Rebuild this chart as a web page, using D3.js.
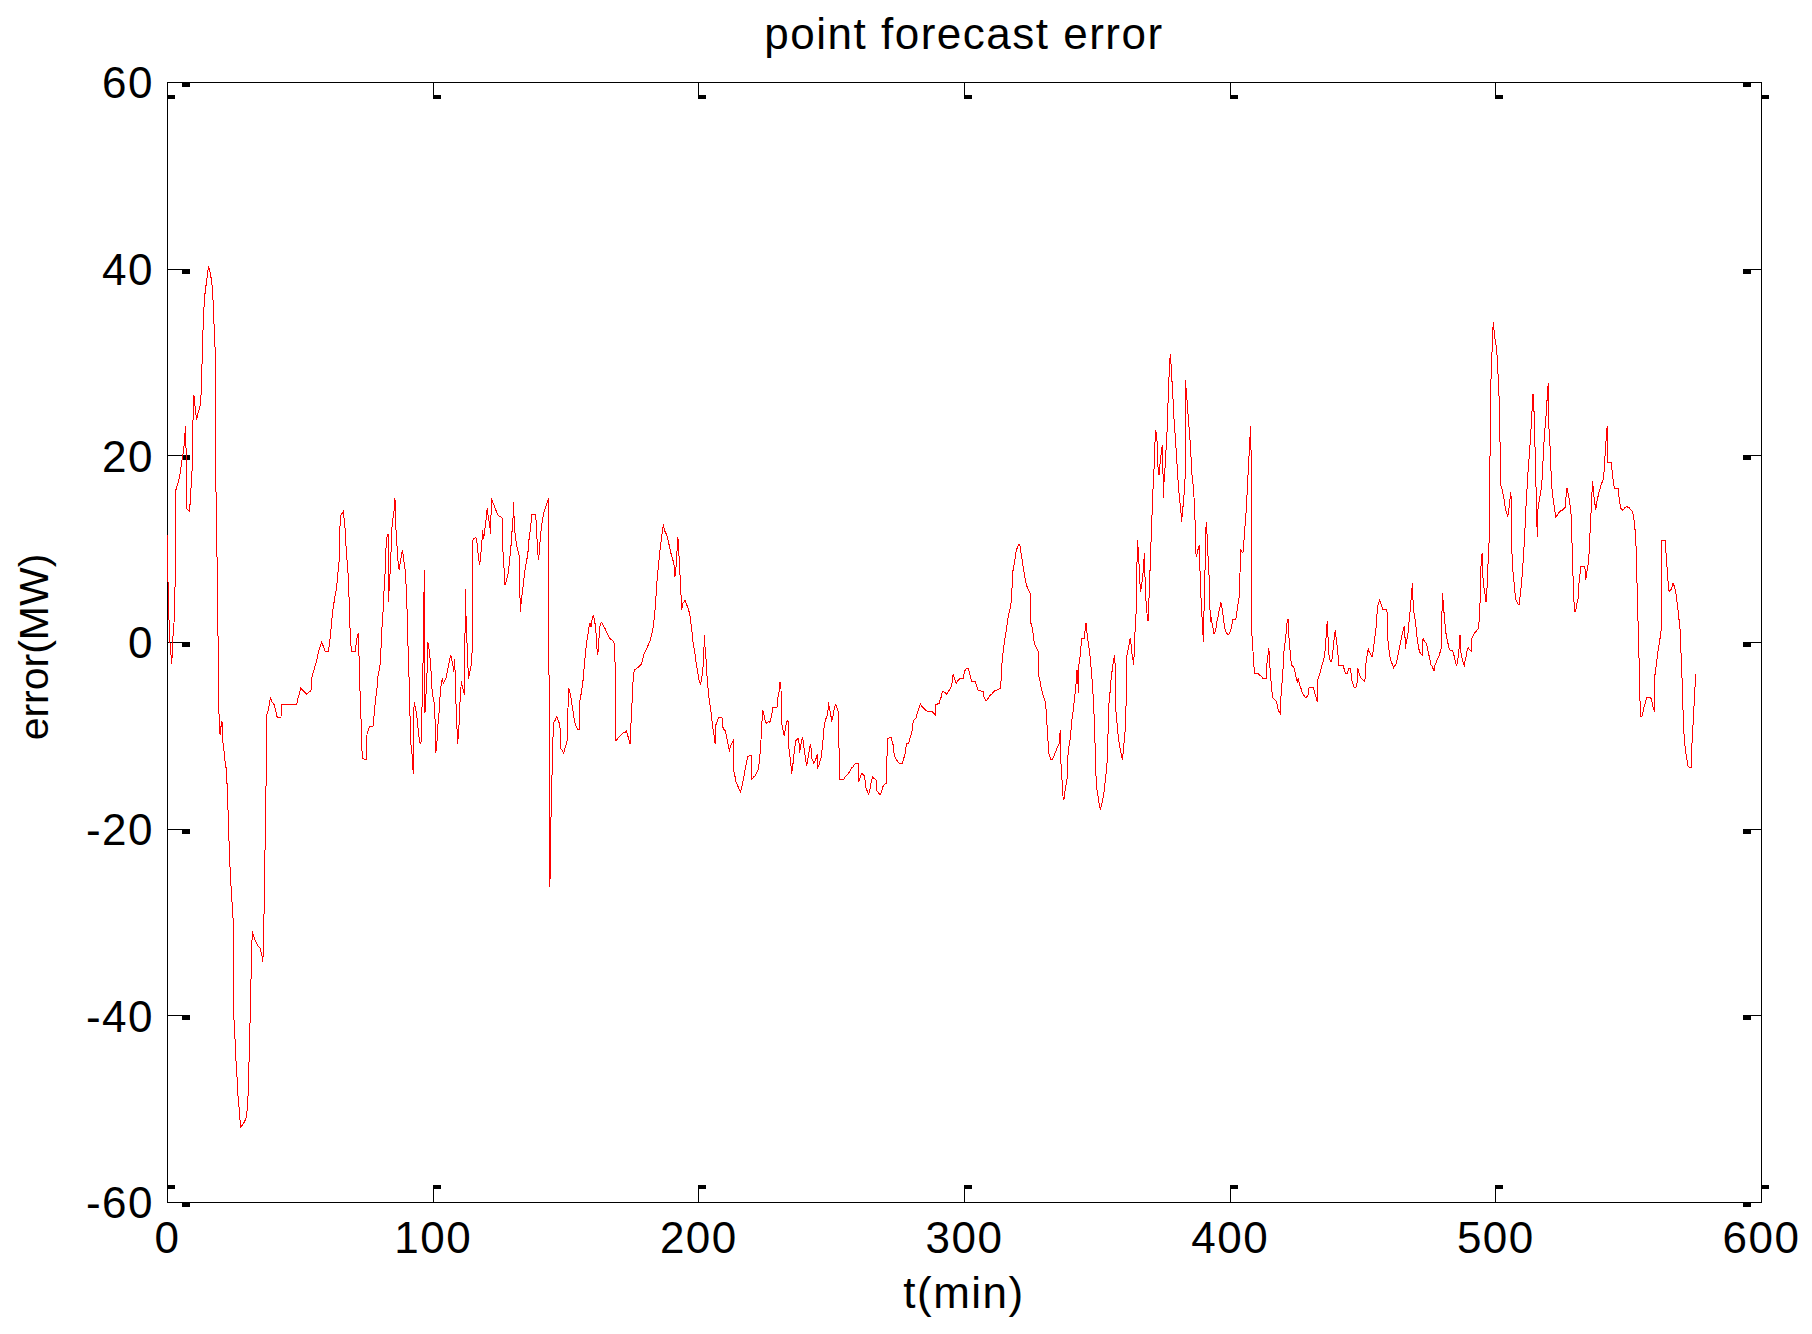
<!DOCTYPE html>
<html>
<head>
<meta charset="utf-8" />
<title>point forecast error</title>
<style>
  body { margin: 0; background: #fff; }
  svg { display: block; }
  .axis text, .label {
    font: 44px "Liberation Sans", Arial, sans-serif;
    letter-spacing: 1.5px;
    fill: #000;
  }
  .label.ylab { font-size: 41px; letter-spacing: 0; }
  .axis line, .axis path {
    stroke: #000;
    stroke-width: 1px;
    fill: none;
    shape-rendering: crispEdges;
  }
  .axis rect { fill: #000; shape-rendering: crispEdges; }
  .series {
    fill: none;
    stroke: #ff0000;
    stroke-width: 1px;
    shape-rendering: crispEdges;
  }
</style>
</head>
<body>
<svg width="1812" height="1334"></svg>

<script src="https://d3js.org/d3.v7.min.js"></script>
<script>
// tick values
const xTicks = [0, 100, 200, 300, 400, 500, 600];
const yTicks = [-60, -40, -20, 0, 20, 40, 60];

// point forecast error, [t (min), error (MW)]
const errorSeries = [
  [0,11.5],[0.6,3.4],[1.1,0],[1.8,-2.4],[2.1,0],[2.6,1.9],[3,3.7],[3.1,16.1],[3.7,16.6],[4.3,17.2],
  [4.9,18],[5.5,19.2],[6.2,20.4],[6.5,21.3],[6.9,22.8],[7.1,23.1],[7.3,14.3],[8.5,14],[8.9,15.8],[9.6,19.2],
  [9.9,26.5],[10.3,26.2],[10.7,24.7],[11.2,23.8],[11.5,24.4],[12.2,25],[12.7,25.6],[13.1,28.9],[13.4,32.3],[13.8,35.3],
  [14.2,37.1],[14.6,38],[15.2,39.3],[15.6,40.3],[16.2,39.6],[16.8,38.7],[17.2,37.4],[17.7,34.1],[18.1,31.4],[18.3,18.9],
  [18.8,9.8],[19.2,0.6],[19.6,-8.2],[20,-10],[20.3,-9.1],[20.7,-8.5],[21.1,-10.9],[21.5,-11.8],[21.8,-12.7],[22.2,-13.4],
  [22.6,-15.2],[23,-18.2],[23.3,-21],[23.7,-24],[24.1,-26.1],[24.5,-28],[24.9,-29.8],[25.2,-40.4],[25.6,-42.5],[26,-45],
  [26.4,-46.8],[26.7,-48.6],[27.1,-49.8],[27.7,-52],[28.5,-51.7],[29.2,-51.4],[30,-50.8],[30.5,-48.6],[31,-43.8],[31.4,-38.9],
  [31.8,-34],[32.1,-31],[32.7,-31.6],[33.4,-32.1],[34.1,-32.5],[35,-32.8],[35.6,-33.4],[36.1,-34.3],[36.5,-29.5],[36.9,-22.2],
  [37.3,-14.9],[37.5,-7.9],[38.1,-7.3],[38.9,-6],[39.5,-6.4],[40.3,-6.7],[40.9,-7.3],[41.5,-8.1],[42.9,-8.1],[43.1,-6.7],
  [48.8,-6.7],[49.4,-5.9],[49.9,-5.5],[50.3,-4.9],[50.9,-5.1],[51.6,-5.3],[52.6,-5.6],[53.4,-5.4],[54.2,-5.2],[54.5,-3.9],
  [55.1,-3.2],[55.7,-2.6],[56.3,-2.1],[57,-1],[57.6,-0.5],[58.2,0],[58.9,-0.5],[59.5,-1],[60.7,-1],[61.1,-0.3],
  [61.6,0.9],[62,2.2],[62.4,3.4],[62.9,4.3],[63.2,4.9],[63.7,5.6],[64.1,6.6],[64.5,7.9],[64.9,9],[65.2,13.5],
  [65.7,13.7],[66.4,14],[67,12.2],[67.4,10.2],[67.9,8.3],[68.3,6.8],[68.8,2.2],[69.1,0],[69.5,-1],[70.8,-1],
  [71.3,-0.1],[71.6,0.6],[72,1],[72.3,-1.7],[72.6,-4.8],[73,-8],[73.5,-12.5],[75,-12.6],[75.3,-9.8],[75.8,-9.4],
  [76.3,-9.1],[77.7,-9],[78,-7.5],[78.5,-6.2],[79,-5.1],[79.4,-3.7],[79.9,-3],[80.3,-2.3],[80.8,1],[81.3,3.2],
  [81.7,5.6],[82.1,7.4],[82.4,9.9],[82.8,11.2],[83.2,11.6],[83.3,4.3],[83.7,6.1],[84.1,8.1],[84.4,10.2],[84.7,12.4],
  [85.1,13.3],[85.5,14.1],[85.8,15.4],[86.2,12],[86.6,10.2],[87.1,8.1],[87.5,7.7],[87.8,8.6],[88.3,9.3],[88.6,9.9],
  [89,9.1],[89.3,8.3],[89.8,7.4],[90.3,4],[90.7,-0.3],[91.2,-4.6],[91.7,-10.7],[92.2,-11.9],[92.7,-14.1],[93,-6.4],
  [93.4,-6.9],[93.9,-7.6],[94.3,-8.7],[94.7,-9.8],[95.1,-10.7],[95.6,-10.9],[96,-6.9],[96.4,-1.9],[96.6,3.2],[96.9,7.7],
  [97.1,-7.6],[97.5,-5.5],[97.9,-3.2],[98.2,0],[98.6,-0.7],[99,-1.7],[99.4,-3.2],[99.8,-5.3],[100.3,-6.2],[100.8,-6.8],
  [101.1,-11.9],[101.5,-11.4],[101.9,-9.1],[102.4,-7.6],[102.8,-5.7],[103.1,-4.8],[103.6,-3.9],[104,-4.4],[104.5,-4.2],[105,-3.9],
  [105.5,-3.2],[105.9,-2.6],[106.4,-1.9],[106.8,-1.4],[107.2,-1.9],[107.6,-2.5],[108,-3.2],[108.3,-1.8],[108.7,-6],[109,-8.2],
  [109.4,-10.9],[109.9,-9.1],[110.3,-6.4],[110.8,-4.2],[111.2,-4.8],[111.5,-5.1],[112,-5.7],[112.3,5.7],[112.7,1.1],[113.2,-1.6],
  [113.4,-3.9],[113.9,-3.4],[114.4,-2.6],[114.8,-1.9],[115,10.9],[115.6,11.1],[116.3,11.2],[116.8,10.4],[117.2,9.1],[117.7,8.3],
  [118.1,9.3],[118.5,10.6],[118.8,12],[119.2,11],[119.6,12],[120.1,13.1],[120.5,14.3],[121,13.3],[121.5,12.4],[121.8,11.6],
  [122.1,15.4],[122.6,15],[123.1,14.7],[123.5,14.3],[124,14],[124.5,13.6],[125.1,13.5],[125.6,13.4],[126.1,13.3],[126.4,10],
  [126.9,7.7],[127.2,6.1],[127.7,6.5],[128.1,7],[128.5,7.5],[128.9,8.6],[129.4,9.9],[129.7,11.3],[130.2,12.9],[130.4,15],
  [130.7,12.9],[131.1,11.3],[131.6,10.4],[132,9.9],[132.5,9.3],[133,3.2],[133.4,4.5],[133.9,5.6],[134.3,6.6],[134.6,7.4],
  [135,8.1],[135.4,8.8],[135.8,9.3],[136.1,10.6],[136.5,11.5],[136.9,12.4],[137.3,13.7],[138.8,13.7],[139,12.4],[139.3,10.9],
  [139.6,9.5],[139.9,8.8],[140.2,9.9],[140.5,11.1],[140.9,12.2],[141.3,13.1],[141.7,13.6],[142,14],[142.4,14.3],[142.8,14.7],
  [143.2,15],[143.7,15.4],[143.9,-26.2],[144.2,-25.3],[144.4,-20.5],[144.8,-15.7],[145.2,-10.9],[145.5,-8.7],[146.1,-8.4],[146.6,-8],
  [147,-8.2],[147.4,-8.5],[147.9,-8.9],[148.2,-11.4],[148.8,-11.6],[149.3,-11.9],[149.8,-11.4],[150.3,-10.9],[150.7,-10.5],[151.1,-4.9],
  [151.6,-5.3],[152.1,-6],[152.5,-6.9],[153,-7.6],[153.3,-8.4],[153.8,-8.9],[154.2,-9.1],[154.7,-9.4],[155.1,-9.4],[155.3,-6.4],
  [155.8,-5.7],[156.2,-5],[156.6,-4.1],[157,-2.8],[157.3,-1.8],[157.7,-0.7],[158.1,0.2],[158.5,0.9],[158.8,1.5],[159.2,2],
  [159.6,1.6],[160,2.4],[160.5,2.9],[160.9,2.4],[161.2,1.8],[161.6,0.6],[162,-1.4],[162.4,-0.9],[162.7,0.9],[163.1,2],
  [163.6,2.1],[164.1,1.8],[164.6,1.6],[165.1,1.3],[165.6,1],[166.1,0.7],[166.6,0.4],[167.6,0.2],[168.1,0],[168.6,-0.3],
  [168.8,-10.5],[169.3,-10.5],[169.9,-10.2],[170.5,-10.1],[171.1,-9.9],[171.8,-9.7],[172.4,-9.7],[172.9,-9.5],[173.4,-10],[173.9,-10.5],
  [174.3,-10.9],[174.8,-7.8],[175.2,-5.7],[175.5,-3.7],[175.9,-3],[176.4,-2.9],[176.9,-2.8],[177.8,-2.6],[178.2,-2.5],[178.7,-2.3],
  [179.1,-1.8],[179.4,-1.4],[179.8,-1.2],[180.2,-0.9],[180.9,-0.5],[181.3,-0.2],[181.7,0],[182.1,0.4],[182.4,0.7],[182.8,1.3],
  [183.2,2],[183.6,3.1],[183.9,4],[184.3,6.1],[184.7,7.4],[185.1,8.4],[185.4,9.5],[185.8,10.4],[186.2,11.3],[186.6,12],
  [186.8,12.6],[187.2,12],[187.7,11.7],[188.2,11.4],[188.6,10.9],[189,10.4],[189.3,10],[189.7,9.5],[190.1,9.1],[190.6,8.6],
  [191,8.1],[191.2,7],[191.5,7.7],[191.8,8.8],[192.1,10.4],[192.3,11.2],[192.6,9.9],[193,7.7],[193.4,5.6],[193.7,3.4],
  [194.1,4.1],[194.6,4.3],[195,4.5],[195.5,4],[196,3.8],[196.4,3.4],[196.9,2.7],[197.2,2],[197.6,1.1],[198,0],
  [198.4,-0.7],[198.8,-1.4],[199.1,-2.1],[199.5,-2.8],[199.9,-3.5],[200.3,-4.1],[200.8,-4.6],[201.1,-4.1],[201.5,-3.4],[201.9,-2.3],
  [202.3,0.7],[202.5,-0.5],[202.9,-1.9],[203.4,-4.3],[203.8,-5.3],[204.1,-6.2],[204.6,-7.1],[205,-8],[205.4,-9.1],[205.9,-10],
  [206.3,-10.9],[206.4,-9.1],[206.8,-8.7],[207.3,-8.4],[207.6,-8.1],[208.9,-8.1],[209.2,-9.1],[209.7,-9.4],[210.2,-9.5],[210.5,-10],
  [210.9,-10.5],[211.3,-11.2],[211.7,-11.6],[212,-11.3],[212.5,-10.9],[212.9,-10.7],[213.3,-10.5],[213.4,-13.9],[213.8,-14.4],[214.2,-15],
  [214.7,-15.3],[215.2,-15.7],[215.5,-15.9],[215.9,-16.1],[216.3,-15.6],[216.7,-15.1],[217.1,-14.5],[217.4,-13.9],[217.8,-13.4],[218.2,-12.8],
  [218.6,-12.3],[219.2,-12.2],[220,-12.2],[220.1,-14.7],[220.6,-14.6],[221,-14.4],[221.5,-14.3],[222,-14],[222.3,-13.8],[222.7,-13.5],
  [223.1,-12.4],[223.5,-10.9],[223.8,-9.4],[224.2,-7.3],[224.6,-7.6],[225,-8.2],[225.3,-8.6],[225.8,-8.7],[226.5,-8.5],[226.9,-8.6],
  [227.4,-8.1],[227.7,-7.7],[228.1,-7],[229.6,-7],[230,-5.9],[230.4,-5.3],[230.7,-4.3],[231.1,-4.3],[231.2,-8.2],[231.6,-9.1],
  [232,-9.6],[232.4,-10.1],[232.7,-9.4],[233.1,-8.7],[233.5,-8.4],[233.9,-8.6],[234,-11.2],[234.4,-12.1],[234.8,-13],[235.1,-14.1],
  [235.5,-13.4],[235.9,-12.3],[236.3,-11.4],[236.6,-10.6],[237.3,-10.4],[237.8,-10.3],[238.1,-11.9],[238.5,-11.2],[238.9,-10.5],[239.3,-10.2],
  [239.6,-11],[240,-11.8],[240.4,-12.6],[240.8,-13.3],[241.2,-12.6],[241.5,-12.1],[241.9,-11.3],[242.3,-10.9],[242.7,-12.5],[243.2,-12.8],
  [243.5,-13],[244,-12.7],[244.4,-12.4],[244.8,-12],[245,-13.4],[245.4,-13.2],[245.8,-12.8],[246.3,-12.3],[246.7,-11.2],[247.1,-10],
  [247.4,-8.9],[247.8,-8.4],[248.3,-8],[248.7,-7.8],[249,-6.4],[249.3,-7.1],[249.7,-7.6],[250.2,-8.4],[250.6,-8.1],[250.9,-7.5],
  [251.3,-7],[251.7,-6.7],[252.1,-7],[252.4,-7.2],[252.8,-7.7],[253.1,-14.7],[254.7,-14.7],[255.2,-14.5],[255.8,-14.3],[256.5,-14.1],
  [257.1,-13.8],[257.7,-13.5],[258.2,-13.4],[258.7,-13.1],[259.5,-13],[260.2,-13],[260.3,-15],[260.8,-14.6],[261.2,-14.3],[261.6,-14.1],
  [262.1,-14.2],[262.6,-14.4],[263,-15.5],[263.4,-15.9],[263.7,-16],[264.1,-16.4],[264.5,-15.9],[264.9,-15.3],[265.2,-14.8],[265.7,-14.4],
  [266.1,-14.6],[266.6,-14.7],[267,-14.8],[267.1,-15.9],[267.5,-16],[267.9,-16.2],[268.4,-16.4],[268.7,-16.2],[269.1,-15.9],[269.5,-15.5],
  [270,-15.3],[270.4,-15.2],[270.9,-15.1],[271.1,-10.4],[271.6,-10.3],[272.1,-10.2],[272.5,-10.2],[272.9,-10.6],[273.3,-11],[273.6,-11.8],
  [274,-12.3],[274.4,-12.5],[274.8,-12.7],[275.2,-12.9],[275.9,-13],[276.7,-13],[277.2,-12.6],[277.5,-12.3],[277.9,-11.9],[278.3,-10.9],
  [279,-10.9],[279.4,-10.6],[279.8,-10.2],[280.2,-9.8],[280.5,-9.4],[280.9,-8.4],[281.3,-8.3],[281.7,-8.2],[282.1,-8.1],[282.4,-7.6],
  [282.8,-7.3],[283.2,-7],[283.6,-6.6],[284.1,-6.9],[284.6,-7],[285.1,-7.2],[285.6,-7.3],[286.2,-7.4],[287.6,-7.4],[288.1,-7.5],
  [288.6,-7.6],[289.1,-7.8],[289.2,-6.7],[290.7,-6.6],[291.1,-6],[291.5,-5.9],[291.8,-5.3],[292.3,-5.3],[292.8,-5.4],[293.5,-5.6],
  [294.1,-5.3],[294.7,-5.1],[295.1,-4.8],[295.5,-4.4],[295.9,-3.4],[296.2,-3.7],[296.6,-4.1],[297.1,-4.4],[297.5,-4.2],[297.9,-4.1],
  [298.5,-3.9],[299.8,-3.9],[300.1,-3.2],[300.5,-3],[301,-2.8],[301.5,-2.8],[302,-3.2],[302.4,-3.7],[302.8,-4.2],[304.3,-4.2],
  [304.6,-4.6],[305,-4.9],[305.4,-5.2],[307.3,-5.3],[307.5,-5.85],[307.9,-6.1],[308.4,-6.3],[308.9,-6.1],[309.4,-5.9],[309.9,-5.7],
  [310.4,-5.6],[311,-5.4],[311.7,-5.2],[312.9,-5.1],[313.4,-5],[313.8,-4.95],[314.2,-2.6],[314.5,-1.6],[314.9,-0.7],[315.3,0.2],
  [315.7,0.9],[316.1,1.6],[316.4,2.4],[316.8,2.9],[317.2,3.4],[317.6,4],[317.9,4.5],[318.3,7.4],[318.7,8.1],[319.1,8.6],
  [319.4,9.5],[319.8,9.9],[320.2,10.2],[320.6,10.5],[321,10.5],[321.2,9.9],[321.6,9.3],[322,8.6],[322.3,7.9],[322.7,7.4],
  [323.1,6.6],[323.5,6.1],[323.8,5.9],[324.2,5.6],[324.7,5.3],[325.1,5.1],[325.2,2],[325.6,1.6],[326,0.9],[326.4,0],
  [326.7,-0.3],[327.1,-0.5],[327.5,-0.8],[327.9,-1],[328.2,-3.7],[328.6,-4.2],[329,-4.8],[329.4,-5.3],[329.7,-5.6],[330.1,-6],
  [330.5,-6.3],[330.9,-7.2],[331.2,-8.7],[331.6,-10.5],[332,-12],[332.4,-12.3],[332.7,-12.6],[333.2,-12.6],[333.8,-12.3],[334.2,-11.9],
  [334.8,-11.6],[335.2,-11.2],[335.8,-10.9],[336,-10.1],[336.3,-9.4],[336.5,-13],[336.9,-14.8],[337.3,-16.7],[337.6,-16.9],[338,-16],
  [338.4,-15.3],[338.8,-14.6],[339.1,-12.3],[339.5,-11.2],[339.9,-10.5],[340.3,-9.4],[340.6,-8.4],[341,-7.6],[341.4,-6.6],[341.8,-5.5],
  [342.2,-4.35],[342.5,-3],[342.8,-3],[343,-5.5],[343.3,-2.3],[343.7,-1.6],[344,-0.5],[344.4,0.4],[345.4,0.4],[345.7,2],
  [346,2],[346.4,0.6],[346.8,-0.1],[347.2,-1],[347.6,-1.9],[347.9,-3],[348.3,-4.4],[348.7,-6.2],[349.1,-8.7],[349.4,-11.6],
  [349.8,-15.3],[350.2,-16.2],[350.6,-16.7],[350.9,-17.5],[351.3,-17.9],[351.7,-17.6],[352.1,-17.1],[352.4,-16.6],[352.8,-15.9],[353.2,-14.8],
  [353.6,-13.7],[353.9,-12.8],[354.3,-8.9],[354.6,-6.4],[355,-5.3],[355.3,-4.2],[355.7,-3.2],[356.1,-2.3],[356.5,-1.7],[356.8,-1.4],
  [357.1,-7.1],[357.5,-8.35],[357.8,-9.4],[358.2,-10.5],[358.6,-11.2],[359,-11.7],[359.3,-12.3],[359.7,-12.5],[360.1,-11.2],[360.5,-9.9],
  [360.9,-8.9],[361.2,-1.6],[361.6,-1],[362,-0.5],[362.4,0.3],[362.7,0.4],[363.1,-1],[363.5,-1.7],[363.9,-2.5],[364.2,0.2],
  [364.6,2.2],[365,4.3],[365.2,10.9],[365.6,9.9],[366,7.7],[366.4,5.4],[366.8,5.9],[367.1,6.6],[367.5,7.7],[367.9,9.5],
  [368.3,5.2],[368.6,4],[369,2.7],[369.3,2.2],[369.6,4.3],[370,7.5],[370.4,10.8],[370.8,13.8],[371.1,16.1],[371.4,17.9],
  [371.8,20],[372,22.7],[372.4,22.4],[372.8,21.1],[373,18.8],[373.4,17.9],[373.8,19.1],[374.2,20.2],[374.5,20.9],[374.8,21.1],
  [375,15.4],[375.3,17.2],[375.7,18.8],[376,20.4],[376.4,22.4],[376.7,24.9],[377,27.4],[377.4,29.9],[377.7,30.9],[377.9,29.9],
  [378.3,27.9],[378.7,25.9],[379,24.1],[379.4,22.5],[379.8,20.8],[380.2,19],[380.6,17.2],[380.9,16.1],[381.3,14.9],[381.7,13.8],
  [381.9,12.9],[382.2,13.8],[382.6,15],[382.9,16.1],[383.2,17.5],[383.3,28.1],[383.7,26.8],[384.1,25.4],[384.4,24.1],[384.8,22.7],
  [385.2,21.1],[385.6,19.1],[385.9,17.5],[386.3,16.8],[386.7,14.9],[387.1,12],[387.3,9.5],[387.6,9.1],[387.8,9.7],[388.2,10],
  [388.6,10.4],[388.8,7.9],[389.1,5.4],[389.5,2.9],[389.7,2.4],[390.1,0],[390.3,2.9],[390.6,5.6],[390.8,9.1],[391.1,12.4],
  [391.3,12.9],[391.6,10.6],[392,8.4],[392.2,7.4],[392.5,4.7],[392.7,2.2],[393,2.7],[393.3,2.1],[393.7,1.5],[394.1,0.9],
  [394.5,1.1],[394.9,1.5],[395.2,2.2],[395.6,2.7],[396,3.3],[396.4,3.8],[396.6,4.3],[397,3.8],[397.4,3.1],[397.7,2.4],
  [398.1,1.5],[398.5,1.1],[398.9,0.9],[399.5,0.8],[400,0.9],[400.4,1.3],[400.8,1.8],[401.1,2.4],[402.3,2.4],[402.6,2.9],
  [403,3.8],[403.4,4.5],[403.8,5.2],[404,9.9],[404.4,9.8],[404.8,9.6],[405.1,9.7],[405.5,11.3],[405.9,12.9],[406.3,14.3],
  [406.6,16.1],[407,18.4],[407.4,20.6],[407.8,22.7],[408,23.1],[408.3,1.1],[408.7,-0.5],[409,-2.2],[409.4,-3.4],[410.8,-3.4],
  [411.4,-3.6],[412,-3.7],[412.5,-3.9],[413.7,-3.9],[414,-2.3],[414.3,-1.8],[414.7,-0.7],[414.9,-1.2],[415.3,-3.4],[415.7,-4.6],
  [416.1,-5.9],[416.4,-6],[417.1,-6.2],[417.6,-6.4],[418,-6.8],[418.3,-7.3],[418.7,-7.5],[419.1,-7.7],[419.3,-5.9],[419.7,-4.4],
  [420.1,-2.8],[420.3,-1.4],[420.7,-0.3],[421.1,0.4],[421.3,1.3],[421.7,2.4],[422,2.4],[422.2,0.9],[422.6,-0.5],[423,-1.8],
  [423.3,-2.5],[423.8,-2.6],[424.3,-2.8],[424.7,-3.4],[425.1,-3.9],[425.5,-4.4],[425.8,-3.9],[426.2,-4.4],[426.6,-4.8],[427,-5.1],
  [427.3,-5.4],[427.9,-5.7],[428.4,-5.9],[429,-5.9],[429.5,-5.7],[429.9,-4.9],[431.5,-4.9],[431.9,-5.3],[432.2,-5.7],[432.6,-6],
  [433,-6.4],[433.1,-4.1],[433.5,-3.7],[433.9,-3.4],[434.3,-3],[434.6,-2.6],[435,-2.3],[435.4,-1.9],[435.8,-1.4],[436,-0.5],
  [436.3,0.6],[436.5,1.6],[436.8,2.2],[437,0.6],[437.3,-1.2],[437.6,-1.8],[438,-2.1],[438.4,-2.1],[438.8,-1.2],[439.1,-0.3],
  [439.5,0.8],[439.8,1.3],[440,0.57],[440.4,-0.3],[440.8,-1.4],[441.1,-2.5],[442.7,-2.5],[443,-2.8],[443.4,-3.2],[443.8,-3.4],
  [444.2,-3.4],[444.5,-3.2],[444.9,-2.8],[445.3,-2.8],[445.7,-3.4],[446,-4.1],[446.4,-4.5],[446.8,-4.85],[447.5,-4.85],[447.9,-4.6],
  [448.2,-2.8],[448.5,-3.2],[448.9,-3.5],[449.3,-3.8],[449.7,-3.9],[450.3,-4.1],[450.9,-4.25],[451.2,-2.5],[451.6,-1.75],[451.9,-1],
  [452.2,-0.7],[452.4,-1],[452.8,-1.2],[453.2,-1.4],[453.6,-1.6],[453.9,-1.2],[454.3,-0.3],[454.7,0.57],[455.1,1.57],[455.3,2.5],
  [455.7,3.8],[456.1,4.2],[456.5,4.5],[456.8,4.2],[457.2,3.86],[457.6,3.5],[459.2,3.5],[459.5,0.4],[459.8,-0.5],[460.2,-1.4],
  [460.6,-1.9],[461,-2.2],[461.3,-2.5],[461.7,-2.75],[462.1,-2.6],[462.5,-2.4],[462.9,-2.1],[463.2,-1.6],[463.6,-1.1],[464,-0.5],
  [464.4,0.04],[464.7,0.57],[465.1,1],[465.5,1.57],[465.9,1.7],[466.1,-0.7],[466.5,0],[466.9,0.57],[467.2,1.1],[467.6,2.4],
  [468,3.6],[468.4,5],[468.8,6.3],[469.1,3.8],[469.5,2.9],[469.9,2.2],[470.3,1.3],[470.6,0.3],[471,-0.4],[471.4,-1],
  [471.8,-1.2],[472.5,-1.4],[472.8,0.4],[473.1,0.2],[473.5,0],[473.9,-0.1],[474.3,-0.4],[474.6,-0.86],[475,-1.4],[475.4,-1.9],
  [475.8,-2.5],[476.2,-2.6],[476.5,-2.8],[476.9,-3.1],[477.3,-2.4],[477.7,-2.2],[478,-2],[478.4,-1.75],[478.8,-1.5],[479.2,-1.1],
  [479.5,-0.86],[479.8,-0.5],[480,5.2],[480.4,4.3],[480.8,2.7],[481.2,1.5],[481.5,0.75],[481.9,0.2],[482.3,-0.3],[482.7,-0.8],
  [483,-0.9],[483.8,-0.9],[484.2,-1.2],[484.6,-1.6],[484.9,-2.1],[485.3,-2.5],[485.7,-2.3],[486.1,-1.4],[486.4,-0.5],[486.7,0.75],
  [486.9,-0.86],[487.3,-1.5],[487.7,-2],[488.1,-2.4],[488.3,-2.5],[488.7,-1.9],[489.1,-1.4],[489.4,-0.86],[489.8,-0.57],[490.2,-0.8],
  [490.9,-0.96],[491.1,0.4],[491.5,0.57],[491.8,0.75],[492.2,1],[492.6,1.1],[493,1.2],[493.3,1.36],[493.7,1.47],[494.2,3.8],
  [494.6,8.1],[495,9.5],[495.3,7],[495.7,5.9],[496.1,5.2],[496.5,4.3],[496.9,5.9],[497.2,8.1],[497.6,10.2],[497.9,16.6],
  [498.2,26.8],[498.6,29.9],[499,32.9],[499.2,34.3],[499.6,33.1],[500,32.2],[500.5,31.5],[500.9,29.3],[501.3,27],[501.6,24.5],
  [502,16.8],[502.4,16.5],[502.8,16],[503.1,15.6],[503.5,14.9],[503.9,14.1],[504.3,13.8],[504.6,13.4],[505,14],[505.4,15],
  [505.8,16.1],[506,15.2],[506.3,9],[506.6,7.7],[507,6.5],[507.4,5.3],[507.8,4.5],[508.1,4.3],[508.5,4.1],[508.9,3.96],
  [509.3,4.85],[509.7,5.9],[510,6.8],[510.4,8.4],[510.8,10.2],[511.2,12.4],[511.5,14.3],[511.9,16.3],[512.3,18.2],[512.7,19.7],
  [513,20.9],[513.4,22.7],[513.8,24.7],[514.2,26.6],[514.4,26.3],[514.8,22.3],[515.2,18.1],[515.5,14.1],[515.8,11.3],[516,14.1],
  [516.4,14.9],[516.8,15.6],[517.2,16.3],[517.6,17.4],[517.9,19.1],[518.3,21.3],[518.7,22.9],[519.1,24.3],[519.4,25.6],[519.7,27],
  [519.9,27.7],[520.2,22.9],[520.6,20.9],[520.9,18.6],[521.3,16.5],[521.7,15.4],[522.1,14.7],[522.5,13.8],[522.8,13.4],[523.3,13.6],
  [523.8,13.8],[524.3,14],[525,14.1],[525.6,14.2],[526.1,14.4],[526.5,14.5],[526.7,16.5],[527.1,16.4],[527.5,15.7],[527.9,15.2],
  [528.2,14.5],[528.6,13.4],[528.9,10.2],[529.2,7.4],[529.6,4.3],[530,3.2],[530.4,3.6],[530.7,4.1],[531.1,4.5],[531.5,6.3],
  [531.9,7.4],[532.2,8.1],[533.7,8.1],[534,6.6],[534.4,7.4],[534.7,8.1],[535.1,8.4],[535.5,10.9],[535.9,13.1],[536.3,15.6],
  [536.6,17.2],[537,15.9],[537.4,15],[537.8,14.1],[538.1,14.9],[538.5,15.4],[538.9,15.9],[539.3,16.3],[539.6,16.6],[540,17],
  [540.4,17.2],[540.8,17.7],[541.1,19.1],[541.5,20.9],[541.9,22.5],[542.1,23.1],[542.4,19.2],[543.7,19.2],[544,18.1],[544.4,17.2],
  [544.8,16.5],[546.2,16.5],[546.5,15.6],[546.9,14.8],[547.3,14.3],[547.7,14.1],[548.2,14.2],[548.8,14.4],[549.4,14.5],[550.3,14.4],
  [550.9,14.2],[551.4,14.1],[551.8,13.8],[552.2,13.1],[552.6,12],[552.9,10.9],[553.3,6.6],[553.7,2.35],[554.1,-1.9],[554.4,-5.9],
  [554.7,-8],[555.1,-8],[555.5,-7.6],[555.8,-7.2],[556.2,-6.75],[556.6,-6.4],[557,-5.9],[558.1,-5.9],[558.5,-6],[558.8,-6.2],
  [559.2,-6.75],[559.6,-7.2],[559.8,-7.3],[560.1,-3.5],[560.5,-2.6],[560.9,-1.75],[561.2,-1],[561.6,-0.3],[562,0.4],[562.4,1.3],
  [562.7,10.9],[563.9,10.9],[564.2,9.7],[564.6,8.1],[565,6.5],[565.4,5.4],[565.7,5.5],[566.1,5.6],[566.5,5.9],[566.9,6.3],
  [567.2,6.1],[567.6,5.7],[568,5.2],[568.4,4.3],[568.8,3.4],[569.1,2.5],[569.5,1.5],[569.9,-1.2],[570.3,-4.1],[570.6,-7],
  [571,-9.8],[571.4,-11.2],[571.8,-12],[572.1,-12.5],[572.5,-13.3],[572.9,-13.4],[573.4,-13.5],[573.8,-13.4],[574,-11],[574.4,-8.9],
  [574.8,-6.75],[575.2,-4.6],[575.4,-3.4]
];

const svg = d3.select("svg");

// plot box in page pixels
const plotLeft = 167, plotRight = 1761, plotTop = 82, plotBottom = 1202;

const x = d3.scaleLinear().domain([0, 600]).range([plotLeft, plotRight]);
const y = d3.scaleLinear().domain([-60, 60]).range([plotBottom, plotTop]);

// plain hyphen minus, like the original
const fmt = d => String(d);

// bottom axis: inward ticks with a little block at the tip
const gBottom = svg.append("g")
  .attr("class", "axis")
  .attr("transform", `translate(0,${plotBottom})`)
  .call(d3.axisBottom(x).tickValues(xTicks).tickFormat(fmt)
    .tickSizeInner(-17).tickSizeOuter(0).tickPadding(20));
gBottom.selectAll(".tick").append("rect")
  .attr("x", -0.5).attr("y", -17.5).attr("width", 8).attr("height", 4);

// top axis, no labels
const gTop = svg.append("g")
  .attr("class", "axis")
  .attr("transform", `translate(0,${plotTop})`)
  .call(d3.axisTop(x).tickValues(xTicks).tickSizeInner(-17).tickSizeOuter(0).tickFormat(""));
gTop.selectAll(".tick").append("rect")
  .attr("x", -0.5).attr("y", 12.5).attr("width", 8).attr("height", 4);

// left axis
const gLeft = svg.append("g")
  .attr("class", "axis")
  .attr("transform", `translate(${plotLeft},0)`)
  .call(d3.axisLeft(y).tickValues(yTicks).tickFormat(fmt)
    .tickSizeInner(-23).tickSizeOuter(0).tickPadding(13));
gLeft.selectAll(".tick text").attr("dy", "0.36em");
gLeft.selectAll(".tick").append("rect")
  .attr("x", 15).attr("y", -0.5).attr("width", 8).attr("height", 5);

// right axis, no labels
const gRight = svg.append("g")
  .attr("class", "axis")
  .attr("transform", `translate(${plotRight},0)`)
  .call(d3.axisRight(y).tickValues(yTicks).tickSizeInner(-18).tickSizeOuter(0).tickFormat(""));
gRight.selectAll(".tick").append("rect")
  .attr("x", -18).attr("y", -0.5).attr("width", 8).attr("height", 5);

// error series
const line = d3.line()
  .x(d => x(d[0]))
  .y(d => y(d[1]));

svg.append("path")
  .datum(errorSeries)
  .attr("class", "series")
  .attr("d", line);

// title and axis labels
svg.append("text")
  .attr("class", "label")
  .attr("x", (plotLeft + plotRight) / 2)
  .attr("y", 49)
  .attr("text-anchor", "middle")
  .text("point forecast error");

svg.append("text")
  .attr("class", "label")
  .attr("x", (plotLeft + plotRight) / 2)
  .attr("y", 1308)
  .attr("text-anchor", "middle")
  .text("t(min)");

svg.append("text")
  .attr("class", "label ylab")
  .attr("transform", `translate(48,647) rotate(-90)`)
  .attr("text-anchor", "middle")
  .text("error(MW)");
</script>
</body>
</html>
